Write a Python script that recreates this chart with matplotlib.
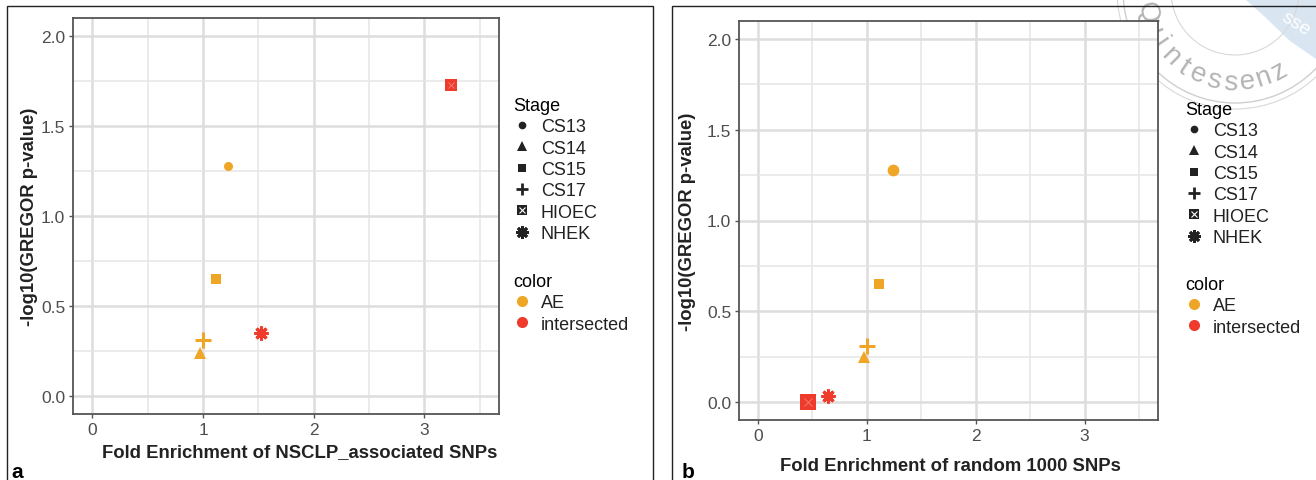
import numpy as np
import matplotlib
matplotlib.use("Agg")
import matplotlib.pyplot as plt
from matplotlib.lines import Line2D
from matplotlib.patches import Rectangle, Circle, Polygon

plt.rcParams["font.family"] = ["Liberation Sans", "DejaVu Sans"]

# data
stages = ["CS13", "CS14", "CS15", "CS17", "HIOEC", "NHEK"]
groups = ["AE", "AE", "AE", "AE", "intersected", "intersected"]
fe_nsclp = [1.23, 0.97, 1.12, 1.00, 3.24, 1.52]
p_nsclp = [1.28, 0.24, 0.65, 0.31, 1.73, 0.35]
fe_random = [1.24, 0.97, 1.11, 1.00, 0.46, 0.64]
p_random = [1.28, 0.25, 0.65, 0.31, 0.00, 0.03]

xlabels = ["Fold Enrichment of NSCLP_associated SNPs", "Fold Enrichment of random 1000 SNPs"]
ylabel = "-log10(GREGOR p-value)"
panel_tags = ["a", "b"]

colors = {"AE": "#EFA526", "intersected": "#EE3B2B"}
markers = {"CS13": "o", "CS14": "^", "CS15": "s", "CS17": "+", "HIOEC": "s", "NHEK": (8, 2, 0)}
msize = {"CS13": 6.5, "CS14": 8, "CS15": 7, "CS17": 11, "HIOEC": 8.5, "NHEK": 10}

W, H = 1316, 481
fig = plt.figure(figsize=(W / 100, H / 100), dpi=100)


def fx(x):
    return x / W


def fy(y):
    return 1 - y / H


def draw_panel(ax, fe, pv, big=1.0):
    for st, g, x, y in zip(stages, groups, fe, pv):
        c = colors[g]
        s = msize[st] * (big if st in ("HIOEC", "CS13") else 1.0)
        if st in ("CS17", "NHEK"):
            ax.plot(x, y, marker=markers[st], ms=s, mew=2.2, color=c, ls="none", zorder=3)
        else:
            ax.plot(x, y, marker=markers[st], ms=s, mew=0, color=c, ls="none", zorder=3)
        if st == "HIOEC":
            ax.plot(x, y, marker="x", ms=s * 0.5, mew=0.6, color="#F58276", ls="none", zorder=4)
    ax.set_xlim(-0.175, 3.675)
    ax.set_ylim(-0.1, 2.1)
    ax.set_xticks([0, 1, 2, 3])
    ax.set_xticks([0.5, 1.5, 2.5, 3.5], minor=True)
    ax.set_yticks([0.0, 0.5, 1.0, 1.5, 2.0])
    ax.set_yticks([0.25, 0.75, 1.25, 1.75], minor=True)
    ax.set_yticklabels(["0.0", "0.5", "1.0", "1.5", "2.0"])
    ax.grid(which="major", color="#DDDDDD", lw=1.8, zorder=0)
    ax.grid(which="minor", color="#E6E6E6", lw=1.1, zorder=0)
    ax.set_axisbelow(True)
    ax.tick_params(which="major", length=3, width=1, color="#555555", labelcolor="#4D4D4D",
                   labelsize=12.5, pad=2.5)
    ax.tick_params(which="minor", length=0)
    for sp in ax.spines.values():
        sp.set_color("#555555")
        sp.set_linewidth(1.3)


def add_legend(x0, y0, gap):
    hs = []
    for st in stages:
        if st == "HIOEC":
            h = (Line2D([], [], marker="s", ms=7, mew=0, color="#222222", ls="none"),
                 Line2D([], [], marker="x", ms=4, mew=0.8, color="white", ls="none"))
        elif st in ("CS17", "NHEK"):
            h = Line2D([], [], marker=markers[st], ms=9, mew=2, color="#222222", ls="none")
        else:
            h = Line2D([], [], marker=markers[st], ms=msize[st] * 0.85, mew=0, color="#222222", ls="none")
        hs.append(h)
    opts = dict(loc="upper left", frameon=False, fontsize=13, title_fontsize=13,
                alignment="left", handlelength=1.0, handletextpad=0.55, labelspacing=0.24,
                borderpad=0, borderaxespad=0)
    leg1 = fig.legend(hs, stages, title="Stage", bbox_to_anchor=(fx(x0), fy(y0)), **opts)
    ch = [Line2D([], [], marker="o", ms=8, mew=0, color=colors[g], ls="none") for g in ["AE", "intersected"]]
    leg2 = fig.legend(ch, ["AE", "intersected"], title="color",
                      bbox_to_anchor=(fx(x0), fy(y0 + gap)), **opts)
    for leg in (leg1, leg2):
        for t in leg.get_texts():
            t.set_color("#222222")


# watermark stamp (drawn first, behind everything)
bg = fig.add_axes([0, 0, 1, 1], zorder=-5)
bg.set_xlim(0, W)
bg.set_ylim(H, 0)
bg.axis("off")
bg.add_patch(Polygon([[1245, 0], [1316, 0], [1316, 60], [1290, 42], [1265, 18]], closed=True,
                     facecolor="#D9E6F2", edgecolor="none"))
bg.text(1296, 24, "sse", fontsize=14, color="white", ha="center", va="center", rotation=-32)
cx, cy = 1235, -8
bg.add_patch(Circle((cx, cy), 112, fill=False, ec="#CFCFCF", lw=1.0))
bg.add_patch(Circle((cx, cy), 118, fill=False, ec="#D8D8D8", lw=0.8))
bg.add_patch(Circle((cx, cy), 64, fill=False, ec="#D8D8D8", lw=0.8))
word = "Quintessenz"
angs = np.linspace(167, 61, len(word))
for ch_, a in zip(word, angs):
    r = 91
    px = cx + r * np.cos(np.radians(a))
    py = cy + r * np.sin(np.radians(a))
    bg.text(px, py, ch_, fontsize=20, color="#B4B4B4", ha="center", va="center",
            rotation=90 - a)

# panel borders
for x0, x1 in [(7, 653), (672, 1330)]:
    fig.patches.append(Rectangle((fx(x0), fy(490)), fx(x1 - x0), (490 - 7) / H,
                                 transform=fig.transFigure, fill=False, ec="#222222", lw=1.0))

ax1 = fig.add_axes([fx(73), fy(415), fx(499 - 73), (415 - 19) / H])
ax2 = fig.add_axes([fx(739), fy(421), fx(1158 - 739), (421 - 22) / H])

draw_panel(ax1, fe_nsclp, p_nsclp)
draw_panel(ax2, fe_random, p_random, big=1.3)

for ax, xl in zip([ax1, ax2], xlabels):
    ax.set_xlabel(xl, fontsize=13.3, fontweight="bold", color="#222222")
    ax.set_ylabel(ylabel, fontsize=13.3, fontweight="bold", color="#222222")

ax1.xaxis.set_label_coords(0.533, -0.096)
ax1.yaxis.set_label_coords(-0.101, 0.5)
ax2.xaxis.set_label_coords(0.504, -0.113)
ax2.yaxis.set_label_coords(-0.122, 0.5)
for ax in (ax1, ax2):
    ax.xaxis.label.set_va("center")
    ax.yaxis.label.set_va("center")

add_legend(513, 98, 176)
add_legend(1185, 102, 175)

fig.text(fx(11), fy(473), "a", fontsize=15, fontweight="bold", va="center", ha="left")
fig.text(fx(682), fy(473), "b", fontsize=15, fontweight="bold", va="center", ha="left")

fig.savefig("out.png", dpi=100)
